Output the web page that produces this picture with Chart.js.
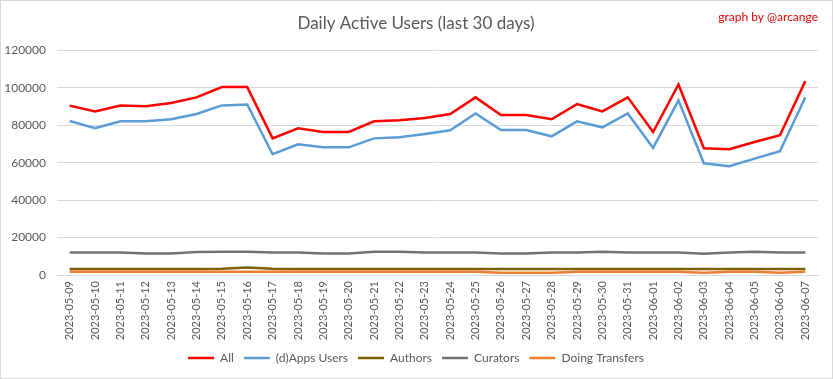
<!DOCTYPE html>
<html>
<head>
<meta charset="utf-8">
<script src="https://cdn.jsdelivr.net/npm/chart.js@4.4.0/dist/chart.umd.min.js"></script>
<style>
  html, body { margin: 0; padding: 0; background: #fff; }
  #wrap { width: 833px; height: 379px; box-sizing: border-box; border: 1px solid #d9d9d9; position: relative; }
  canvas { display: block; }
</style>
</head>
<body>
<div id="wrap"><canvas id="chart" width="831" height="377"></canvas></div>
<script>
const dates = [
  '2023-05-09', '2023-05-10', '2023-05-11', '2023-05-12', '2023-05-13', '2023-05-14',
  '2023-05-15', '2023-05-16', '2023-05-17', '2023-05-18', '2023-05-19', '2023-05-20',
  '2023-05-21', '2023-05-22', '2023-05-23', '2023-05-24', '2023-05-25', '2023-05-26',
  '2023-05-27', '2023-05-28', '2023-05-29', '2023-05-30', '2023-05-31', '2023-06-01',
  '2023-06-02', '2023-06-03', '2023-06-04', '2023-06-05', '2023-06-06', '2023-06-07'
];

const allUsers = [
  90500, 87400, 90600, 90200, 91900, 94900, 100400, 100400, 73000, 78400,
  76400, 76400, 82100, 82700, 83900, 86000, 94900, 85500, 85500, 83200,
  91300, 87400, 94900, 76400, 101800, 67700, 67200, 71100, 74700, 103600
];

const appsUsers = [
  82300, 78400, 82100, 82100, 83200, 86000, 90600, 91100, 64500, 69800,
  68200, 68200, 73000, 73600, 75300, 77300, 86300, 77500, 77500, 74100,
  82100, 78900, 86300, 67900, 93300, 59700, 58100, 62200, 66100, 95000
];

const authors = [
  3200, 3200, 3200, 3200, 3200, 3200, 3300, 4000, 3300, 3200,
  3200, 3200, 3200, 3200, 3200, 3200, 3200, 3200, 3200, 3200,
  3200, 3200, 3200, 3200, 3200, 3200, 3200, 3200, 3200, 3200
];

const curators = [
  12000, 12000, 12000, 11500, 11500, 12300, 12400, 12400, 12000, 12000,
  11500, 11500, 12400, 12400, 12000, 12000, 12000, 11500, 11500, 12000,
  12000, 12400, 12000, 12000, 12000, 11400, 12000, 12400, 12000, 12000
];

const transfers = [
  1800, 1800, 1800, 1800, 1800, 1800, 1800, 1800, 1800, 1800,
  1800, 1800, 1800, 1800, 1800, 1800, 1800, 1200, 1200, 1200,
  1700, 1800, 1800, 1800, 1800, 1200, 1700, 1800, 1200, 1700
];

const yTicks = [0, 20000, 40000, 60000, 80000, 100000, 120000];

const textColor = '#595959';
const fontFamily = 'Lato, "Open Sans", "Liberation Sans", sans-serif';

const credit = {
  id: 'credit',
  afterDraw(chart) {
    const ctx = chart.ctx;
    ctx.save();
    ctx.fillStyle = '#e00000';
    ctx.font = '12px ' + fontFamily;
    ctx.textAlign = 'right';
    ctx.textBaseline = 'middle';
    ctx.fillText('graph by @arcange', 817, 16);
    ctx.restore();
  }
};

function line(label, data, color, width) {
  return {
    label,
    data,
    borderColor: color,
    backgroundColor: color,
    borderWidth: width,
    pointRadius: 0,
    tension: 0,
    fill: false
  };
}

new Chart(document.getElementById('chart'), {
  type: 'line',
  data: {
    labels: dates,
    datasets: [
      line('All', allUsers, '#ff0000', 2.5),
      line('(d)Apps Users', appsUsers, '#5b9bd5', 2.5),
      line('Authors', authors, '#7f6000', 2.5),
      line('Curators', curators, '#767171', 2.5),
      line('Doing Transfers', transfers, '#ed7d31', 2.5)
    ]
  },
  plugins: [credit],
  options: {
    responsive: false,
    animation: false,
    layout: { padding: { left: 13, right: 14, top: 0, bottom: 4 } },
    scales: {
      x: {
        offset: true,
        grid: { display: false, drawTicks: false },
        border: { color: '#d9d9d9' },
        afterFit: axis => { axis.height = 67; },
        ticks: {
          color: textColor,
          font: { size: 11, family: fontFamily },
          minRotation: 90,
          maxRotation: 90,
          autoSkip: false,
          padding: 6
        }
      },
      y: {
        min: 0,
        max: 120000,
        afterBuildTicks: axis => { axis.ticks = yTicks.map(v => ({ value: v })); },
        afterFit: axis => {
          axis.width = 43;
          // let the tick labels spill into the left padding
          axis._computeLabelArea = () => undefined;
        },
        grid: { color: '#d9d9d9', drawTicks: false },
        border: { display: false },
        ticks: {
          color: textColor,
          font: { size: 12, family: fontFamily },
          padding: 11,
          callback: v => String(v)
        }
      }
    },
    plugins: {
      title: {
        display: true,
        text: 'Daily Active Users (last 30 days)',
        color: textColor,
        font: { size: 17, weight: 'normal', family: fontFamily },
        padding: { top: 12, bottom: 17 }
      },
      legend: {
        position: 'bottom',
        labels: {
          color: textColor,
          font: { size: 12, family: fontFamily },
          usePointStyle: true,
          pointStyle: 'line',
          pointStyleWidth: 26,
          padding: 10
        }
      },
      tooltip: { enabled: false }
    }
  }
});
</script>
</body>
</html>
